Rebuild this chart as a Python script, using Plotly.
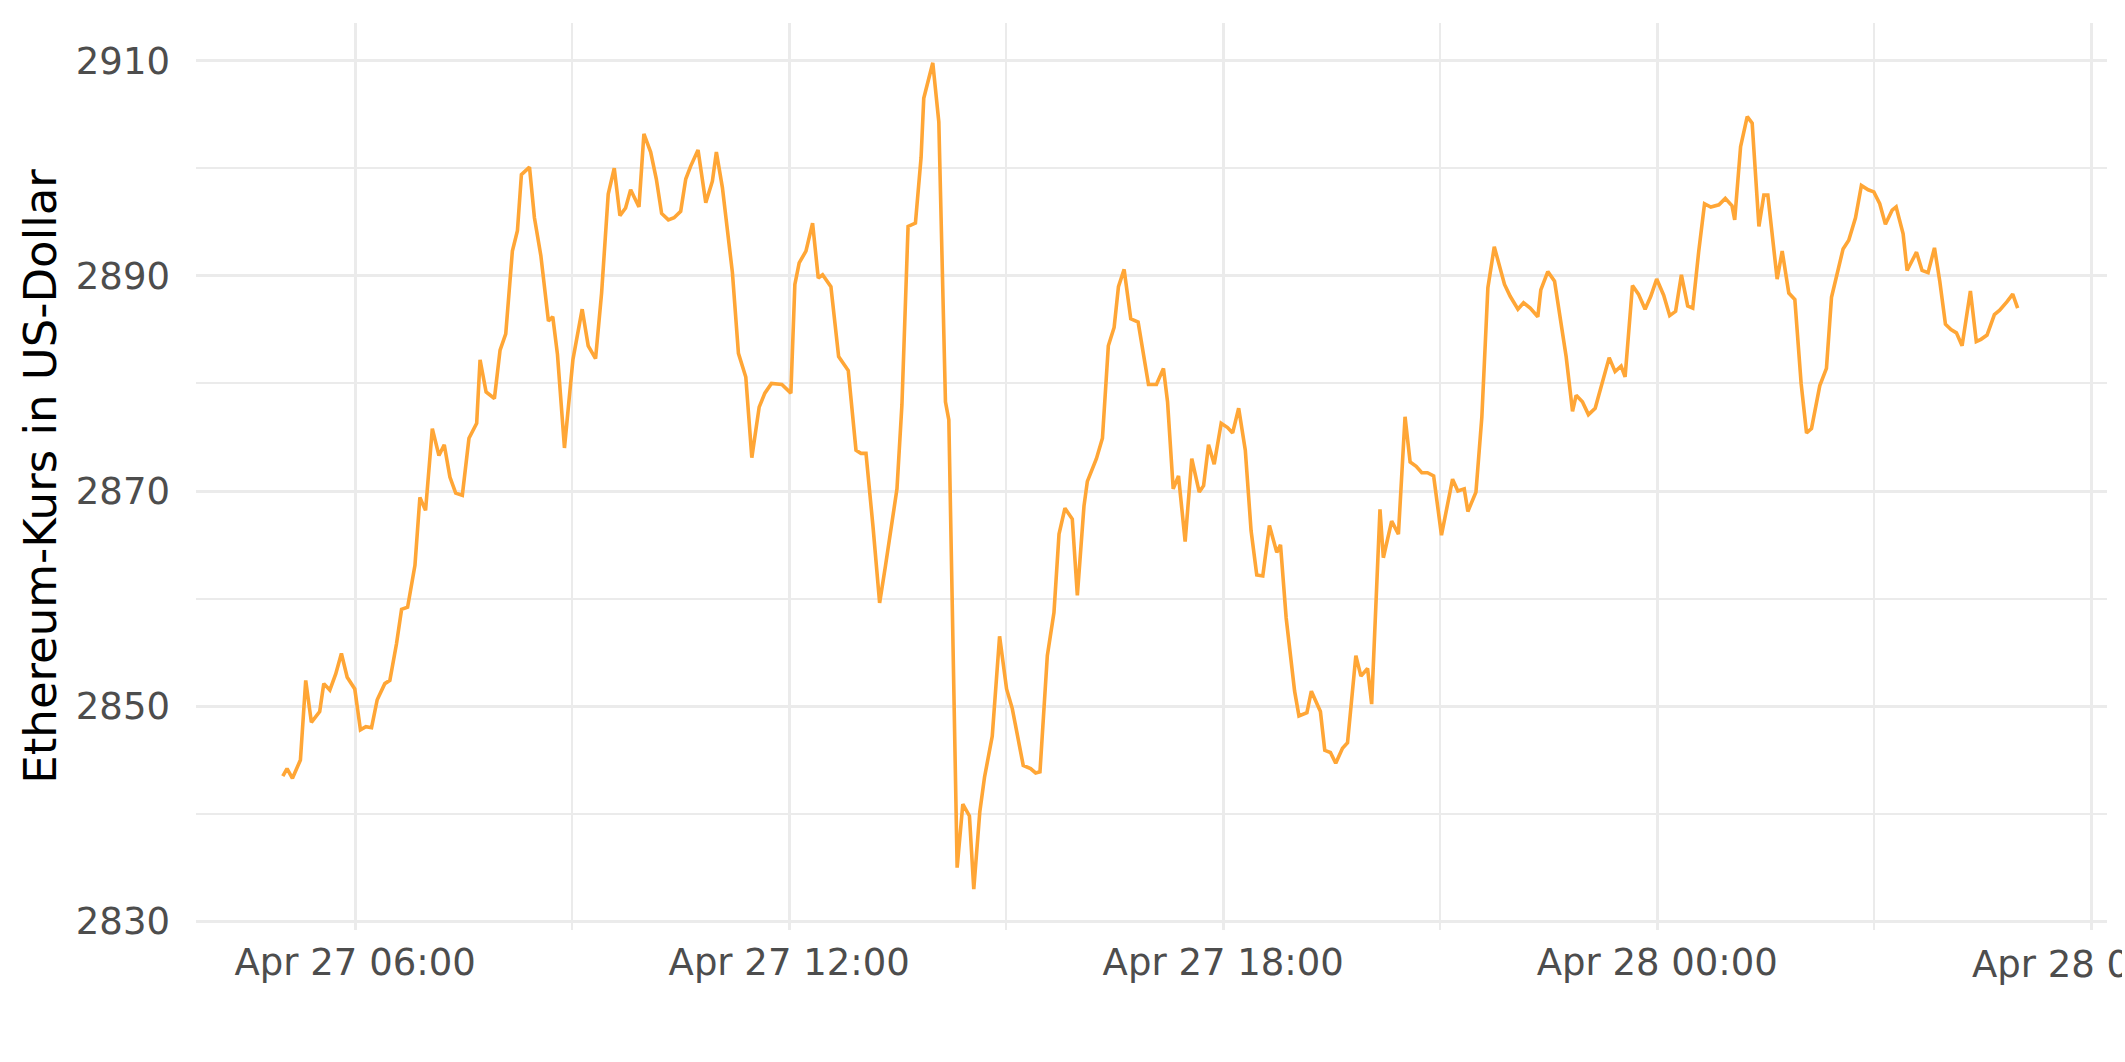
import plotly.graph_objects as go
import pandas as pd

start_time = "2022-04-27 05:00"

# minutes after start_time
minutes = [
    0, 3.5, 8, 14.6, 19, 23.7, 30.6, 34, 39, 43.9, 48.6, 53.4, 59.7, 64.4, 68.9, 73.6, 78.3, 84.6, 88.8,
    94.3, 98.5, 103.5, 109.6, 113.7, 118.4, 124, 129.5, 133.9, 138.6, 143.4, 148.9, 154.4, 160.8, 163.6,
    168.6, 175.5, 180.2, 184.9, 190.4, 194.6, 197.9, 204.6, 208.7, 214, 220.3, 223.9, 227.8, 233.6,
    240.6, 248.3, 253.3, 259.4, 264.4, 269.9, 274.9, 279.6, 284.3, 288.5, 295.4, 299.5, 305.1, 309.8,
    314.2, 319.8, 324.5, 330, 334.2, 338.3, 344.4, 350.8, 356.3, 359.6, 364.6, 369.3, 372.9, 377.9,
    384, 389, 395.1, 399.8, 405.3, 413.9, 421.4, 424.7, 428.3, 433.9, 439.4, 444.1, 447.7, 454.6, 461,
    469, 475.4, 479.5, 483.7, 489.5, 495, 499.8, 504, 509.4, 513.5, 518.6, 524.7, 529.4, 531.6, 539.1,
    544.1, 549.6, 552.4, 559.3, 564, 569.5, 573.1, 578.1, 582, 588.4, 594.5, 600.3, 605, 614.1, 620.2,
    624.4, 628, 634.1, 639.6, 643.8, 648.7, 654.8, 659, 664.5, 667.3, 674.8, 679.8, 684.7, 689.5, 693.1,
    697.8, 703.3, 709.4, 713.8, 718, 724.6, 730.4, 733.8, 738.5, 742.9, 748.4, 753.9, 760.1, 763.7,
    767.8, 772.5, 778.3, 783.6, 787.8, 792.8, 798.3, 803.1, 807.8, 812.8, 818.3, 824.4, 827.5, 832.2,
    839.2, 842.8, 849.4, 853.1, 860.6, 864.2, 868.9, 873.3, 878.9, 883.1, 890, 894.2, 899.7, 903.1, 910,
    912.8, 919.7, 925.3, 930.8, 935, 940, 944.7, 949.4, 954.5, 961, 970.2, 974.6, 979.9, 982.9, 989.6,
    994.5, 999.5, 1004.8, 1013.3, 1018, 1024.4, 1029.1, 1034.6, 1040.9, 1043.4, 1049.2, 1054.8, 1059.5,
    1064.4, 1069.7, 1072.7, 1077.9, 1082.9, 1088.5, 1094, 1100.1, 1105, 1110, 1113.3, 1119.4, 1124.4,
    1129.9, 1134.6, 1139.5, 1145.3, 1150.3, 1155.2, 1160, 1165.2, 1169.4, 1174.3, 1179.2, 1184.4, 1191.1,
    1196.4, 1202, 1204.2, 1209.1, 1214.6, 1218.7, 1224.3, 1228.4, 1231.7, 1239.4, 1243.6, 1249.1, 1254.1,
    1259.3, 1263.8, 1267.9, 1274.8, 1280.3, 1284.5, 1289.7, 1294.1, 1298.8, 1304.4, 1309.3, 1314.9,
    1319.6, 1324.5, 1329.2, 1334.8, 1338.1, 1343.9, 1347.2, 1355, 1359.6, 1364.6, 1369.9, 1374.3, 1379,
    1383.6, 1388.1, 1392.8, 1399.7, 1404.6, 1408.5, 1413.5, 1419.6, 1424, 1430.1, 1434.8, 1438.9,
]

prices = [
    2843.5, 2844.2, 2843.3, 2845.0, 2852.4, 2848.5, 2849.5, 2852.1, 2851.5, 2853.0, 2854.9, 2852.7, 2851.6,
    2847.8, 2848.1, 2848.0, 2850.6, 2852.1, 2852.4, 2855.8, 2859.0, 2859.2, 2863.1, 2869.4, 2868.2, 2875.8,
    2873.3, 2874.3, 2871.3, 2869.8, 2869.6, 2874.9, 2876.3, 2882.2, 2879.2, 2878.6, 2883.1, 2884.6, 2892.3,
    2894.2, 2899.4, 2900.1, 2895.4, 2891.9, 2885.8, 2886.2, 2882.7, 2874.0,
    2882.2, 2886.9, 2883.5, 2882.3, 2888.4, 2897.6, 2900.0, 2895.6, 2896.3, 2898.0, 2896.4, 2903.2, 2901.5,
    2899.0, 2895.8, 2895.2, 2895.4, 2896.0, 2899.0, 2900.2, 2901.7, 2896.8, 2898.8, 2901.5, 2898.2, 2893.7,
    2890.3, 2882.8, 2880.6, 2873.1, 2877.8, 2879.1, 2880.0, 2879.9, 2879.1, 2889.2, 2891.2, 2892.3, 2894.9,
    2889.8, 2890.1, 2889.0, 2882.5, 2881.2, 2873.8, 2873.5, 2873.5,
    2866.7, 2859.6, 2863.0, 2866.3, 2870.2, 2878.0, 2894.6, 2894.9, 2901.0, 2906.5, 2909.8, 2904.3, 2878.3,
    2876.6, 2835.0, 2840.9, 2839.8, 2833.0, 2840.2, 2843.4, 2847.2, 2856.5, 2851.6, 2849.8, 2844.5, 2844.2,
    2843.8, 2843.9, 2854.7, 2858.7, 2866.0, 2868.4, 2867.4, 2860.3, 2868.6, 2870.9, 2873.0, 2874.9, 2883.5,
    2885.2, 2889.0, 2890.6, 2886.0, 2885.7, 2882.8, 2879.9, 2879.9, 2881.4, 2878.3, 2870.2, 2871.4, 2865.3,
    2873.0, 2869.9, 2870.5, 2874.3, 2872.5,
    2876.3, 2875.9, 2875.4, 2877.7, 2873.8, 2866.3, 2862.2, 2862.1, 2866.8, 2864.3, 2865.0, 2858.2, 2851.4,
    2849.1, 2849.4, 2851.4, 2849.5, 2845.9, 2845.7, 2844.7, 2846.1, 2846.6, 2854.7, 2852.8, 2853.5, 2850.2,
    2868.3, 2863.8, 2867.2, 2866.0, 2876.9, 2872.7, 2872.3, 2871.7, 2871.7, 2871.4,
    2865.9, 2871.1, 2870.0, 2870.2, 2868.1, 2869.9, 2876.9, 2888.9, 2892.7, 2889.2, 2888.1, 2886.9, 2887.5,
    2887.0, 2886.2, 2888.7, 2890.4, 2889.5, 2885.9, 2882.5, 2877.4, 2878.9, 2878.3, 2877.1, 2877.7, 2879.8,
    2882.4, 2881.1, 2881.6, 2880.6, 2889.1, 2888.3, 2886.9, 2888.1,
    2889.7, 2888.2, 2886.3, 2886.7, 2890.1, 2887.2, 2887.0, 2892.2, 2896.7, 2896.4, 2896.6, 2897.2, 2896.5,
    2895.2, 2902.0, 2904.8, 2904.2, 2894.6, 2897.5, 2897.5, 2889.7, 2892.3, 2888.4, 2887.8, 2880.0, 2875.4,
    2875.8, 2879.8, 2881.4, 2888.0, 2890.3, 2892.5, 2893.3, 2895.4, 2898.4, 2898.0, 2897.8, 2896.7, 2894.8,
    2896.1, 2896.4, 2893.9, 2890.5, 2892.2, 2890.5, 2890.3, 2892.6, 2889.5, 2885.5, 2885.0, 2884.7, 2883.5,
    2888.6, 2883.9, 2884.1, 2884.5, 2886.4, 2886.8, 2887.6, 2888.3, 2887.0,
]

y_ticks = [2830, 2850, 2870, 2890, 2910]
y_title = "Ethereum-Kurs in US-Dollar"
last_tick = "2022-04-28 06:00"
last_tick_label = "Apr 28 06:00"

times = pd.Timestamp(start_time) + pd.to_timedelta(minutes, unit="m")

fig = go.Figure()
fig.add_trace(go.Scatter(
    x=times, y=prices, mode="lines",
    line=dict(color="#FFA636", width=3.6),
    showlegend=False,
))

grid_major = "#EBEBEB"
fig.update_layout(
    width=2125, height=1062,
    margin=dict(l=196, r=18, t=23, b=132),
    paper_bgcolor="white", plot_bgcolor="white",
    font=dict(family="DejaVu Sans", color="#4D4D4D", size=37),
)
fig.update_xaxes(
    type="date",
    range=["2022-04-27 03:48", "2022-04-28 06:13"],
    tick0="2022-04-27 00:00", dtick=6 * 3600 * 1000,
    tickformat="%b %d %H:%M",
    showgrid=True, gridcolor=grid_major, gridwidth=3.3,
    minor=dict(dtick=3 * 3600 * 1000, tick0="2022-04-27 00:00", showgrid=True,
               gridcolor=grid_major, gridwidth=1.7),
    showline=False, zeroline=False, ticks="",
    ticklabelstandoff=7,
    tickfont=dict(size=37, color="#4D4D4D"),
)
fig.update_yaxes(
    range=[2829.2, 2913.5],
    tickvals=y_ticks, tickformat="d",
    showgrid=True, gridcolor=grid_major, gridwidth=3.3,
    minor=dict(dtick=10, tick0=2830, showgrid=True, gridcolor=grid_major, gridwidth=1.7),
    showline=False, zeroline=False, ticks="",
    ticklabelstandoff=25,
    tickfont=dict(size=37, color="#4D4D4D"),
    title=dict(text=y_title, font=dict(size=45, color="black"), standoff=5),
)

# last tick label, cut off at the right page edge as in the original
fig.add_annotation(
    x=last_tick, xref="x", y=0, yref="paper",
    text=last_tick_label, showarrow=False,
    xanchor="left", yanchor="top", align="left",
    width=150, xshift=-121, yshift=-11,
    font=dict(size=37, color="#4D4D4D", family="DejaVu Sans"),
)

fig.write_html(
    "out.html",
    config={"displayModeBar": False},
    post_script="document.body.style.margin='0';",
)
